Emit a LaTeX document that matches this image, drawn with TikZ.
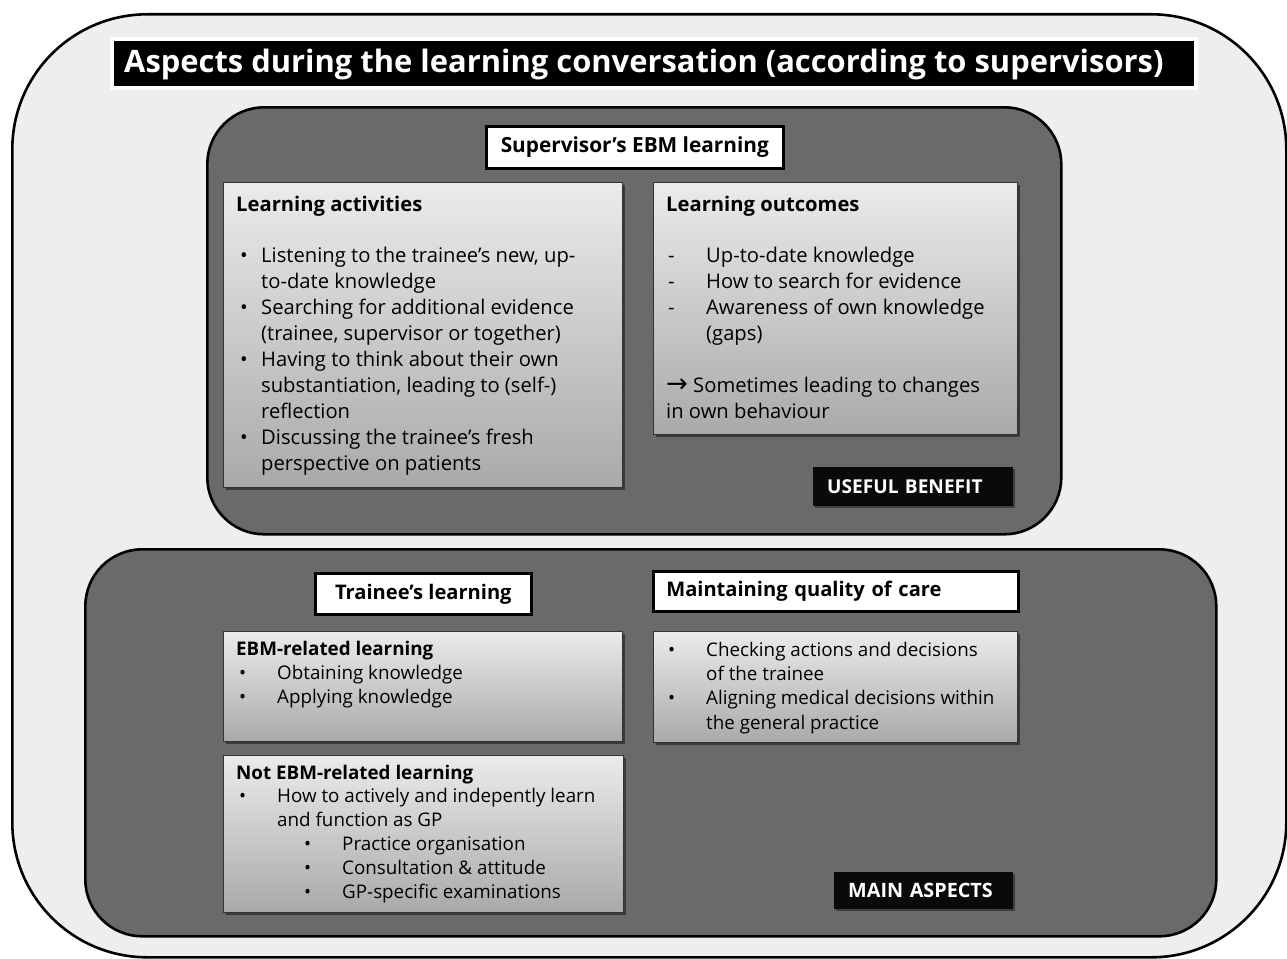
\documentclass[tikz,border=0pt]{standalone}
\usepackage{fontspec}
\setmainfont{Open Sans}
\newfontfamily\arrowfont{DejaVu Sans}
\usetikzlibrary{shadows}
\definecolor{outerfill}{HTML}{EEEEEE}
\definecolor{panelfill}{HTML}{6A6A6A}
\definecolor{boxtop}{HTML}{EBEBEB}
\definecolor{boxbot}{HTML}{A9A9A9}
\definecolor{labelblack}{HTML}{0A0A0A}
\newcommand{\bodyfont}{\fontsize{20.2}{26}\selectfont}
\newcommand{\lowfont}{\fontsize{18.8}{24.4}\selectfont}
% \litem{pre}{indent}{marker}{text}
\newcommand{\litem}[4]{\par\noindent\hangindent=#2\hangafter=1\makebox[#2][l]{\hspace{#1}#3}#4\par}
\newcommand{\tbox}[2]{\parbox[t]{#1}{\parindent=0pt\parskip=0pt #2}}
\begin{document}
\begin{tikzpicture}[x=1pt,y=-1pt,
  panel/.style={draw=black, line width=2.6pt, fill=panelfill, rounded corners=57pt, anchor=north west, inner sep=0pt},
  gbox/.style={draw=black!80, line width=1.3pt, top color=boxtop, bottom color=boxbot, anchor=north west, inner sep=0pt,
    drop shadow={shadow xshift=2pt, shadow yshift=-2pt, opacity=0.45, fill=black}},
  whitebox/.style={draw=black, line width=2.6pt, fill=white, anchor=north west, inner sep=0pt,
    font=\fontsize{20.1}{24}\selectfont\bfseries,
    drop shadow={shadow xshift=2pt, shadow yshift=-2pt, opacity=0.4, fill=black}},
  blackbox/.style={fill=labelblack, anchor=north west, inner sep=0pt, text=white, align=left,
    drop shadow={shadow xshift=2pt, shadow yshift=-2pt, opacity=0.4, fill=black}},
  boxtext/.style={anchor=base west, inner sep=0pt},
]
\useasboundingbox (0,0) rectangle (1287,958);

% outer frame
\node[draw=black, line width=2.6pt, fill=outerfill, rounded corners=135pt, anchor=north west, inner sep=0pt,
  minimum width=1274pt, minimum height=943pt] (outer) at (11,13) {};

% title
\node[fill=black, draw=white, line width=4pt, anchor=north west, inner sep=0pt,
  minimum width=1084pt, minimum height=49pt,
  drop shadow={shadow xshift=1.5pt, shadow yshift=-1.5pt, opacity=0.35, fill=black}] (titlebox) at (110,37) {};
\node[anchor=base west, inner sep=0pt, text=white, font=\fontsize{30.9}{34}\selectfont\bfseries] (title)
  at (124,72) {Aspects during the learning conversation (according to supervisors)};

% upper panel
\node[panel, minimum width=854pt, minimum height=427pt] (upper) at (206,106) {};
\node[whitebox, minimum width=297pt, minimum height=42pt, font=\fontsize{20.8}{24}\selectfont\bfseries] (supervisor) at (485,125) {Supervisor’s EBM learning};

\node[gbox, minimum width=399pt, minimum height=305pt] (actbox) at (223,182) {};
\node[boxtext, font=\bodyfont] (acttext) at (236,211) {\tbox{390pt}{%
  {\bfseries Learning activities}\par\vspace{25pt}%
  \litem{4pt}{25pt}{•}{Listening to the trainee’s new, up-\newline to-date knowledge}%
  \litem{4pt}{25pt}{•}{Searching for additional evidence\newline (trainee, supervisor or together)}%
  \litem{4pt}{25pt}{•}{Having to think about their own\newline substantiation, leading to (self-)\newline reflection}%
  \litem{4pt}{25pt}{•}{Discussing the trainee’s fresh\newline perspective on patients}}};

\node[gbox, minimum width=364pt, minimum height=252pt] (outbox) at (653,182) {};
\node[boxtext, font=\bodyfont] (outtext) at (666,211) {\tbox{360pt}{%
  {\bfseries Learning outcomes}\par\vspace{25pt}%
  \litem{2pt}{40pt}{-}{Up-to-date knowledge}%
  \litem{2pt}{40pt}{-}{How to search for evidence}%
  \litem{2pt}{40pt}{-}{Awareness of own knowledge\newline (gaps)}\vspace{26pt}%
  \noindent\makebox[27pt][l]{\arrowfont\fontsize{26}{26}\selectfont →}Sometimes leading to changes\newline in own behaviour}};

\node[blackbox, minimum width=200pt, minimum height=39pt, inner xsep=14pt, text width=172pt,
  font=\fontsize{19.1}{22}\selectfont\bfseries] (benefit) at (813,467) {USEFUL BENEFIT};

% lower panel
\node[panel, minimum width=1131pt, minimum height=387pt] (lower) at (84,548) {};
\node[whitebox, minimum width=216pt, minimum height=41pt] (trainee) at (314,572) {Trainee’s learning};
\node[whitebox, minimum width=365pt, minimum height=40pt, inner xsep=13pt, text width=339pt, align=left] (quality) at (652,570) {Maintaining quality of care};

\node[gbox, minimum width=399pt, minimum height=110pt] (ebmbox) at (223,631) {};
\node[boxtext, font=\lowfont] (ebmtext) at (236,655) {\tbox{390pt}{%
  {\bfseries EBM-related learning}\par
  \litem{3pt}{41pt}{•}{Obtaining knowledge}%
  \litem{3pt}{41pt}{•}{Applying knowledge}}};

\node[gbox, minimum width=400pt, minimum height=157pt] (notbox) at (223,755) {};
\node[boxtext, font=\fontsize{18.8}{23.9}\selectfont] (nottext) at (236,779) {\tbox{390pt}{%
  {\bfseries Not EBM-related learning}\par
  \litem{3pt}{41pt}{•}{How to actively and indepently learn\newline and function as GP}%
  \litem{68pt}{106pt}{•}{Practice organisation}%
  \litem{68pt}{106pt}{•}{Consultation \& attitude}%
  \litem{68pt}{106pt}{•}{GP-specific examinations}}};

\node[gbox, minimum width=364pt, minimum height=111pt] (checkbox) at (653,631) {};
\node[boxtext, font=\lowfont] (checktext) at (666,656) {\tbox{360pt}{%
  \litem{2pt}{40pt}{•}{Checking actions and decisions\newline of the trainee}%
  \litem{2pt}{40pt}{•}{Aligning medical decisions within\newline the general practice}}};

\node[blackbox, minimum width=179pt, minimum height=37pt, inner xsep=14pt, text width=151pt,
  font=\fontsize{19.8}{22}\selectfont\bfseries] (mainasp) at (834,872) {MAIN ASPECTS};
\end{tikzpicture}
\end{document}
